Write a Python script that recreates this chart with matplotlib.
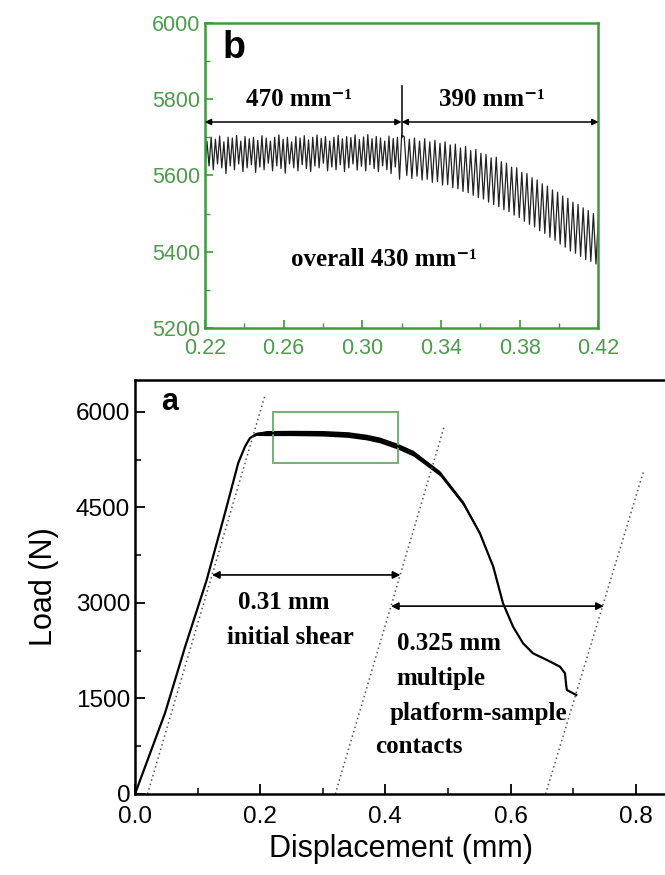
import numpy as np
import matplotlib
matplotlib.use("Agg")
import matplotlib.pyplot as plt
from matplotlib.patches import Rectangle
from matplotlib.ticker import MultipleLocator

plt.rcParams['font.family'] = ['Liberation Sans', 'DejaVu Sans']

# ---- panel a: load-displacement backbone
disp = [0, 0.048, 0.080, 0.1145, 0.1438, 0.165, 0.1757, 0.1837, 0.194, 0.21,
        0.25, 0.30, 0.34, 0.37, 0.391, 0.42, 0.4446, 0.487, 0.5245, 0.551,
        0.5724, 0.588, 0.604, 0.620, 0.636, 0.658, 0.679, 0.687, 0.689, 0.690,
        0.705]
load = [0, 1272, 2310, 3360, 4413, 5200, 5455, 5590, 5655, 5668,
        5670, 5665, 5645, 5605, 5560, 5460, 5351, 5037, 4566, 4095,
        3570, 2995, 2628, 2366, 2209, 2105, 1999, 1895, 1700, 1633,
        1555]

# thickness of the serrated band in panel a (half-width, N)
band_x = [0.185, 0.20, 0.35, 0.45, 0.52, 0.56, 0.59]
band_hw = [0, 40, 45, 45, 35, 20, 0]

# elastic unloading guide lines (start, end)
guide_x = [(0.02, 0.208), (0.32, 0.494), (0.656, 0.812)]
guide_y = [(0, 6270), (0, 5770), (0, 5050)]

# ---- panel b: serrations, 47 teeth in 0.22-0.32, 39 teeth in 0.32-0.42
peaks1 = [5690, 5700, 5695, 5703, 5688, 5700, 5698, 5705, 5690, 5702, 5696, 5700,
          5692, 5704, 5698, 5690, 5700, 5706, 5695, 5700, 5688, 5702, 5698, 5704,
          5693, 5700, 5706, 5697, 5702, 5690, 5700, 5705, 5696, 5702, 5699, 5706,
          5694, 5701, 5707, 5696, 5702, 5698, 5690, 5703, 5697, 5700, 5705]
valleys1 = [5610, 5625, 5615, 5630, 5620, 5605, 5625, 5615, 5630, 5610, 5620, 5628,
            5608, 5622, 5615, 5632, 5612, 5625, 5618, 5606, 5630, 5620, 5612, 5628,
            5618, 5610, 5625, 5620, 5632, 5612, 5622, 5615, 5628, 5610, 5620, 5630,
            5614, 5624, 5612, 5628, 5618, 5610, 5625, 5615, 5605, 5622, 5590]
peaks2 = [5702, 5695, 5698, 5690, 5696, 5688, 5692, 5684, 5688, 5680, 5682, 5672,
          5676, 5665, 5668, 5658, 5655, 5646, 5648, 5636, 5632, 5622, 5620, 5608,
          5605, 5594, 5588, 5578, 5572, 5562, 5556, 5546, 5540, 5530, 5524, 5515,
          5508, 5500, 5495]
valleys2 = [5585, 5600, 5592, 5598, 5588, 5590, 5582, 5584, 5575, 5576, 5568, 5565,
            5558, 5555, 5548, 5542, 5538, 5530, 5524, 5518, 5510, 5505, 5496, 5490,
            5480, 5472, 5465, 5455, 5448, 5438, 5430, 5420, 5412, 5402, 5396, 5388,
            5380, 5375, 5368]
b_xticks = [0.22, 0.26, 0.30, 0.34, 0.38, 0.42]

green = '#3c9a3c'
tgreen = '#4c9c4c'
serif = ['Liberation Serif', 'DejaVu Serif']

fig = plt.figure(figsize=(6.65, 8.75), dpi=100)

# ---------------- panel b
axb = fig.add_axes([0.308, 0.625, 0.592, 0.349])


def zigzag(vals_v, vals_p, x0, x1):
    ys = []
    for v, p in zip(vals_v, vals_p):
        ys += [v, p]
    xs = np.linspace(x0, x1, len(ys))
    return xs, ys


x1, y1 = zigzag(valleys1, peaks1, 0.22, 0.32)
x2, y2 = zigzag(valleys2, peaks2, 0.32, 0.42)
axb.plot(np.r_[x1, x2[1:]], np.r_[y1, y2[1:]], color='#222222', lw=0.9)
axb.set_xlim(0.22, 0.42)
axb.set_ylim(5200, 6000)
axb.set_xticks(b_xticks)
axb.set_xticklabels([f'{v:.2f}' for v in b_xticks])
axb.xaxis.set_minor_locator(MultipleLocator(0.02))
axb.yaxis.set_major_locator(MultipleLocator(200))
axb.yaxis.set_minor_locator(MultipleLocator(100))
for s in axb.spines.values():
    s.set_color(green)
    s.set_linewidth(1.8)
axb.tick_params(which='both', direction='in', colors=green, labelcolor=tgreen,
                labelsize=15.5, top=False, right=False)
axb.tick_params(which='major', length=6, width=1.2)
axb.tick_params(which='minor', length=3.5, width=1)
axb.tick_params(axis='x', pad=7)

axb.text(0.229, 5935, 'b', fontsize=27, fontweight='bold', va='center')
arr = dict(arrowstyle='<|-|>', color='k', lw=1.1, mutation_scale=9,
           shrinkA=0, shrinkB=0)
axb.annotate('', xy=(0.32, 5740), xytext=(0.22, 5740), arrowprops=arr)
axb.annotate('', xy=(0.42, 5740), xytext=(0.32, 5740), arrowprops=arr)
axb.plot([0.32, 0.32], [5700, 5835], color='k', lw=1.1)
tkw = dict(fontsize=18, family=serif, fontweight='bold',
           ha='center', va='center')
axb.text(0.268, 5800, '470 mm\u207b\u00b9', **tkw)
axb.text(0.366, 5800, '390 mm\u207b\u00b9', **tkw)
axb.text(0.311, 5380, 'overall 430 mm\u207b\u00b9', **tkw)

# ---------------- panel a
axa = fig.add_axes([0.203, 0.0926, 0.800, 0.473])
bhw = np.interp(disp, band_x, band_hw, left=0, right=0)
axa.fill_between(disp, np.array(load) - bhw, np.array(load) + bhw,
                 color='k', lw=0)
axa.plot(disp, load, color='k', lw=1.6)
for gx, gy in zip(guide_x, guide_y):
    axa.plot(gx, gy, color='#555555', lw=1.1, ls=(0, (1, 2)))
axa.add_patch(Rectangle((0.22, 5200), 0.2, 800, fill=False,
                        edgecolor='#6aaa6a', lw=1.3))
axa.set_xlim(0, 0.85)
axa.set_ylim(0, 6500)
axa.xaxis.set_major_locator(MultipleLocator(0.2))
axa.xaxis.set_minor_locator(MultipleLocator(0.1))
axa.yaxis.set_minor_locator(MultipleLocator(750))
axa.set_yticks([0, 1500, 3000, 4500, 6000])
for s in axa.spines.values():
    s.set_linewidth(1.8)
axa.tick_params(which='both', direction='in', labelsize=17.5, top=False, right=False)
axa.tick_params(which='major', length=7, width=1.3)
axa.tick_params(which='minor', length=4, width=1.1)
axa.tick_params(axis='x', pad=9)
axa.set_xlabel('Displacement (mm)', fontsize=22, labelpad=4)
axa.set_ylabel('Load (N)', fontsize=22, labelpad=12)

axa.text(0.042, 6150, 'a', fontsize=22, fontweight='bold', va='center')
arr2 = dict(arrowstyle='<|-|>', color='k', lw=1.2, mutation_scale=11,
            shrinkA=0, shrinkB=0)
axa.annotate('', xy=(0.424, 3440), xytext=(0.123, 3440), arrowprops=arr2)
axa.annotate('', xy=(0.749, 2950), xytext=(0.409, 2950), arrowprops=arr2)
tk2 = dict(fontsize=18, family=serif, fontweight='bold',
           ha='center', va='center')
axa.text(0.237, 3000, '0.31 mm', **tk2)
axa.text(0.248, 2450, 'initial shear', **tk2)
axa.text(0.502, 2370, '0.325 mm', **tk2)
axa.text(0.489, 1820, 'multiple', **tk2)
axa.text(0.548, 1270, 'platform-sample', **tk2)
axa.text(0.453, 750, 'contacts', **tk2)

fig.savefig('out.png', dpi=100)
